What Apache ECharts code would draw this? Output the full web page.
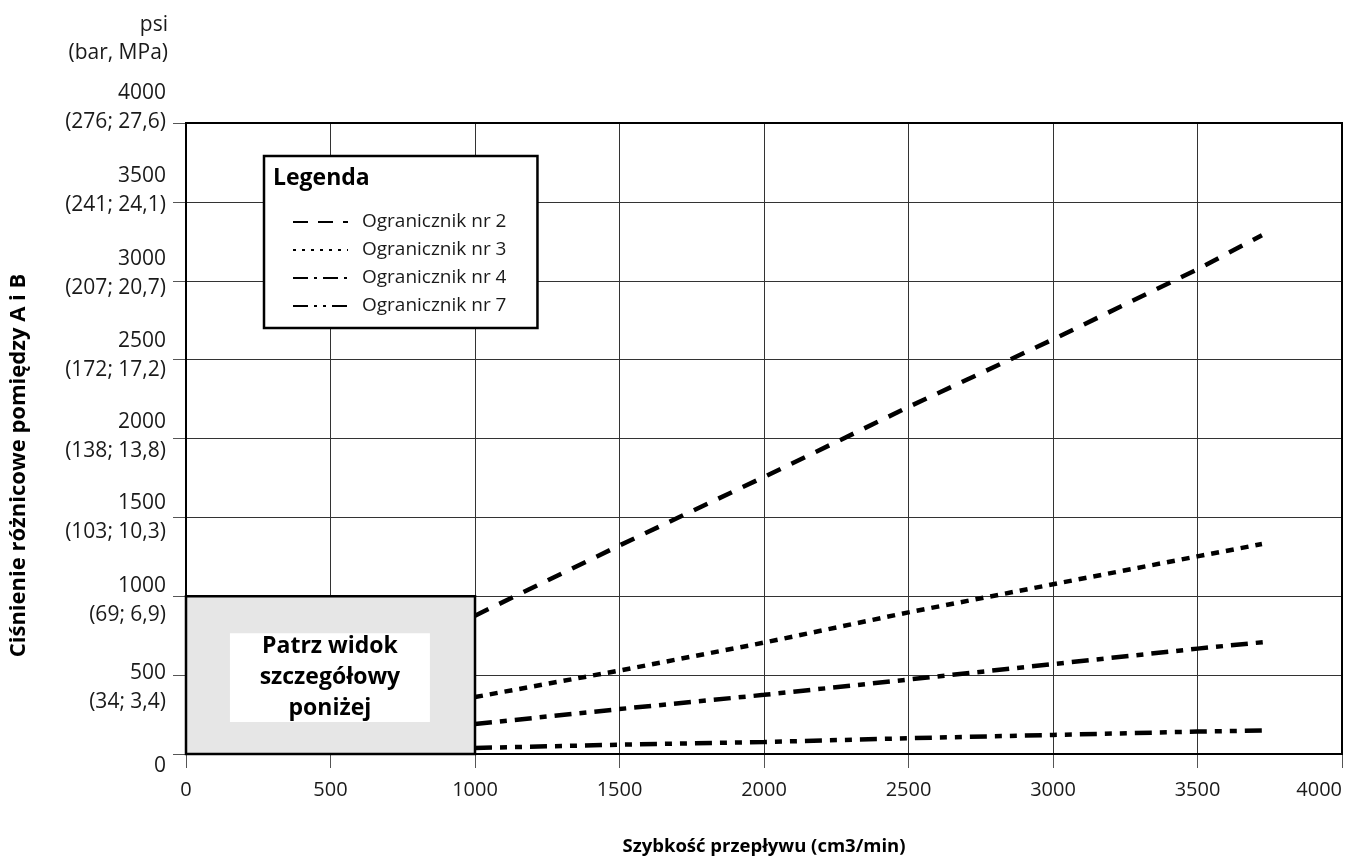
<!DOCTYPE html>
<html>
<head>
<meta charset="utf-8">
<script src="https://cdn.jsdelivr.net/npm/echarts@6/dist/echarts.min.js"></script>
<style>
  html, body { margin: 0; padding: 0; background: #fff; }
  #chart { width: 1353px; height: 861px; }
</style>
</head>
<body>
<div id="chart"></div>
<script>
// ---- data ----
const seriesNames = ['Ogranicznik nr 2', 'Ogranicznik nr 3', 'Ogranicznik nr 4', 'Ogranicznik nr 7'];
const flowNr2 = [1000, 1500, 2000, 2500, 3000, 3500, 3723];
const psiNr2  = [877, 1322, 1756, 2200, 2628, 3073, 3289];
const flowNr3 = [1000, 1500, 2000, 2500, 3000, 3500, 3723];
const psiNr3  = [361, 529, 706, 898, 1076, 1253, 1331];
const flowNr4 = [1000, 1500, 2000, 2500, 3000, 3500, 3744];
const psiNr4  = [190, 285, 375, 472, 570, 668, 712];
const flowNr7 = [1000, 1500, 2000, 2500, 3000, 3500, 3740];
const psiNr7  = [38, 59, 76, 100, 121, 142, 150];
const yTickPsi = [0, 500, 1000, 1500, 2000, 2500, 3000, 3500, 4000];
const yTickBarMpa = ['', '(34; 3,4)', '(69; 6,9)', '(103; 10,3)', '(138; 13,8)', '(172; 17,2)', '(207; 20,7)', '(241; 24,1)', '(276; 27,6)'];
const detailBoxFlow = [0, 1000];
const detailBoxPsi = [0, 1000];
const detailLabelFlow = [152, 844];
const detailLabelPsi = [203, 766];
const detailText = 'Patrz widok\nszczegółowy\nponiżej';

// ---- styling ----
const FONT = '"Open Sans", "DejaVu Sans", sans-serif';
const TXT = '#1a1a1a';
// vertical offset (px) of the first text line of each y tick label relative to its grid line
const yLabelFirstLineOffset = [12, -2, -10, -14, -16, -19, -22, -26, -30];
const LINE_H = 29;

const zip = (xs, ys) => xs.map((x, i) => [x, ys[i]]);
const dashes = [[15, 12], [8, 7], [17, 8, 7, 8], [17, 8, 7, 8, 7, 8]];
const legendDashes = [[15, 10], [3, 6], [15, 6, 3, 6], [15, 6, 3, 6, 3, 6]];
const dataSets = [zip(flowNr2, psiNr2), zip(flowNr3, psiNr3), zip(flowNr4, psiNr4), zip(flowNr7, psiNr7)];

// rich styles for y labels
const yRich = { t: { fontFamily: FONT, fontSize: 21, lineHeight: LINE_H, color: TXT, align: 'right' } };
function spacer(n) {
  const key = 's' + n;
  if (!yRich[key]) yRich[key] = { fontSize: 1, lineHeight: n, color: 'transparent' };
  return '{' + key + '| }';
}
function yLabel(v) {
  const i = yTickPsi.indexOf(v);
  if (i < 0) return '';
  const o = yLabelFirstLineOffset[i];
  if (i === 0) {
    return spacer(Math.round(2 * o)) + '\n{t|' + v + '}';
  }
  const d = Math.round(2 * (o + LINE_H / 2));
  const body = '{t|' + v + '}\n{t|' + yTickBarMpa[i] + '}';
  if (d > 0) return spacer(d) + '\n' + body;
  if (d < 0) return body + '\n' + spacer(-d);
  return body;
}
yTickPsi.forEach(yLabel);

const series = seriesNames.map((name, i) => ({
  name: name,
  type: 'line',
  data: dataSets[i],
  symbol: 'none',
  z: 5,
  lineStyle: { color: '#000', width: 4.5, type: dashes[i], cap: 'butt' },
  itemStyle: { color: '#000' }
}));

series.push({
  name: 'detail',
  type: 'line',
  data: [],
  markArea: {
    silent: true,
    data: [
      [
        { coord: [detailBoxFlow[0], detailBoxPsi[0]], itemStyle: { color: '#e6e6e6', borderColor: '#000', borderWidth: 2.5 } },
        { coord: [detailBoxFlow[1], detailBoxPsi[1]] }
      ],
      [
        { coord: [detailLabelFlow[0], detailLabelPsi[0]], itemStyle: { color: '#fff', borderWidth: 0 },
          label: { show: true, position: 'inside', formatter: detailText, color: '#000', fontFamily: FONT,
                   fontWeight: 'bold', fontSize: 23, lineHeight: 31 } },
        { coord: [detailLabelFlow[1], detailLabelPsi[1]] }
      ]
    ]
  }
});

const chart = echarts.init(document.getElementById('chart'), null, { renderer: 'canvas' });
chart.setOption({
  animation: false,
  backgroundColor: '#fff',
  textStyle: { fontFamily: FONT },
  grid: { left: 186, right: 11, top: 123, bottom: 107, outerBoundsMode: 'none', containLabel: false,
          show: true, borderColor: '#000', borderWidth: 2, backgroundColor: 'transparent', z: 10 },
  xAxis: {
    type: 'value', min: 0, max: 4000, interval: 500,
    name: 'Szybkość przepływu (cm3/min)', nameLocation: 'middle', nameGap: 83,
    nameTextStyle: { fontFamily: FONT, fontSize: 18.5, fontWeight: 'bold', color: '#000' },
    axisLine: { show: false },
    axisTick: { show: true, inside: false, length: 14, lineStyle: { color: '#555', width: 1 } },
    axisLabel: { fontFamily: FONT, fontSize: 20, color: TXT, margin: 26, alignMaxLabel: 'right', formatter: v => String(v) },
    splitLine: { show: true, lineStyle: { color: '#333', width: 1 } }
  },
  yAxis: {
    type: 'value', min: 0, max: 4000, interval: 500,
    name: 'Ciśnienie różnicowe pomiędzy A i B', nameLocation: 'middle', nameGap: 156, nameRotate: 90,
    nameTextStyle: { fontFamily: FONT, fontSize: 22, fontWeight: 'bold', color: '#000', padding: [0, 54, 0, 0] },
    axisLine: { show: false },
    axisTick: { show: true, inside: false, length: 13, lineStyle: { color: '#555', width: 1 } },
    axisLabel: { fontFamily: FONT, fontSize: 21, color: TXT, margin: 20, formatter: yLabel, rich: yRich },
    splitLine: { show: true, lineStyle: { color: '#333', width: 1 } }
  },
  legend: {
    show: true,
    data: seriesNames.map((n, i) => ({ name: n, lineStyle: { width: 2, type: legendDashes[i], color: '#000' }, itemStyle: { opacity: 0 } })),
    orient: 'vertical',
    left: 264, top: 156,
    itemWidth: 55, itemHeight: 14, itemGap: 8,
    padding: [56, 31, 12, 28],
    borderColor: '#000', borderWidth: 2.5, backgroundColor: '#fff',
    textStyle: { fontFamily: FONT, fontSize: 19, lineHeight: 20, color: TXT, padding: [0, 0, 0, 9] },
    selectedMode: false,
    z: 20
  },
  graphic: [
    { type: 'text', right: 1185, top: 15, z: 30,
      style: { text: 'psi', fontFamily: FONT, fontSize: 21, fill: TXT } },
    { type: 'text', right: 1185, top: 43, z: 30,
      style: { text: '(bar, MPa)', fontFamily: FONT, fontSize: 21, fill: TXT } },
    { type: 'text', left: 273, top: 167, z: 30,
      style: { text: 'Legenda', fontFamily: FONT, fontSize: 23, fontWeight: 'bold', fill: '#000' } }
  ],
  series: series
});
</script>
</body>
</html>
